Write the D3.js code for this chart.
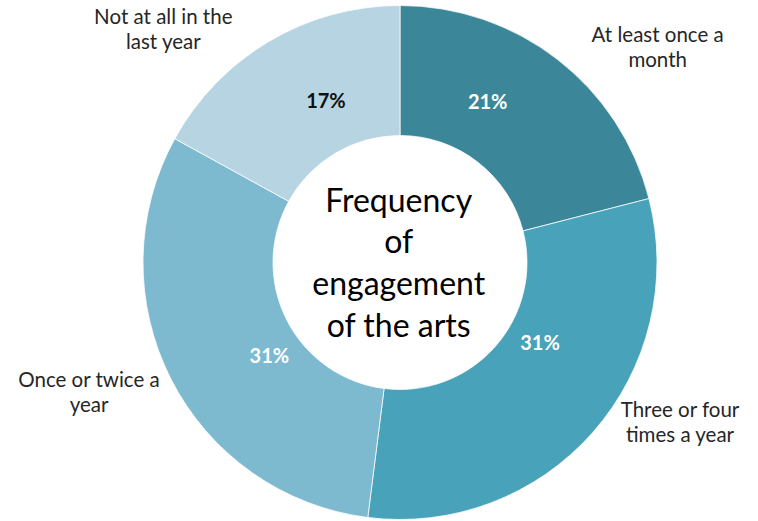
<!DOCTYPE html>
<html>
<head>
<meta charset="utf-8">
<script src="https://cdn.jsdelivr.net/npm/d3@7"></script>
<style>
  html, body { margin: 0; padding: 0; background: #fff; }
  svg { display: block; }
</style>
</head>
<body>
<svg id="chart" width="758" height="521"></svg>
<script>
// ---- Data ----
const categories = ["At least once a month", "Three or four times a year", "Once or twice a year", "Not at all in the last year"];
const categoryLines = [["At least once a", "month"], ["Three or four", "times a year"], ["Once or twice a", "year"], ["Not at all in the", "last year"]];
const values = [21, 31, 31, 17];
const titleLines = ["Frequency", "of", "engagement", "of the arts"];

// ---- Styles / layout (not data) ----
const colors = ["#3b8799", "#48a2b9", "#7db9cf", "#b6d4e1"];
const pctColors = ["#ffffff", "#ffffff", "#ffffff", "#111111"];
const cx = 400, cy = 262.5;
const outerR = 257, innerR = 127;
// offsets of value labels from the slice centroid (to baseline)
const pctNudge = [[-30, -1.5], [-4, -39.5], [40.4, 13], [23.7, 10.5]];
// offsets of category labels from a label-arc centroid (to first baseline)
const catR = 300;
const catNudge = [[73.8, 16.3], [55, -44.2], [-43.7, -12], [-84, 19.3]];

const svg = d3.select("#chart");
const g = svg.append("g").attr("transform", `translate(${cx},${cy})`);

const pie = d3.pie().sort(null).value(d => d);
const arcs = pie(values);
const arc = d3.arc().innerRadius(innerR).outerRadius(outerR);
const labelArc = d3.arc().innerRadius(catR).outerRadius(catR);

g.selectAll("path.slice")
  .data(arcs)
  .enter().append("path")
  .attr("class", "slice")
  .attr("d", arc)
  .attr("fill", (d, i) => colors[i])
  .attr("stroke", "#ffffff")
  .attr("stroke-width", 0.75);

// value labels
g.selectAll("text.pct")
  .data(arcs)
  .enter().append("text")
  .attr("class", "pct")
  .attr("x", (d, i) => arc.centroid(d)[0] + pctNudge[i][0])
  .attr("y", (d, i) => arc.centroid(d)[1] + pctNudge[i][1])
  .attr("text-anchor", "middle")
  .attr("font-family", "Lato, 'Open Sans', sans-serif")
  .attr("font-weight", "bold")
  .attr("font-size", 20)
  .attr("fill", (d, i) => pctColors[i])
  .text(d => d.data + "%");

// category labels
g.selectAll("text.cat")
  .data(arcs)
  .enter().append("text")
  .attr("class", "cat")
  .attr("text-anchor", "middle")
  .attr("font-family", "Lato, 'Open Sans', sans-serif")
  .attr("font-size", 20.5)
  .attr("fill", "#262626")
  .each(function(d, i) {
    const c = labelArc.centroid(d);
    const x = c[0] + catNudge[i][0];
    const y = c[1] + catNudge[i][1];
    d3.select(this).selectAll("tspan")
      .data(categoryLines[i])
      .enter().append("tspan")
      .attr("x", x)
      .attr("y", (t, j) => y + j * 25.3)
      .text(t => t);
  });

// center title
const title = g.append("text")
  .attr("text-anchor", "middle")
  .attr("font-family", "Lato, 'Open Sans', sans-serif")
  .attr("font-size", 32)
  .attr("fill", "#000000");
title.selectAll("tspan")
  .data(titleLines)
  .enter().append("tspan")
  .attr("x", -1.3)
  .attr("y", (t, j) => -50.8 + j * 41.7)
  .text(t => t);
</script>
</body>
</html>
